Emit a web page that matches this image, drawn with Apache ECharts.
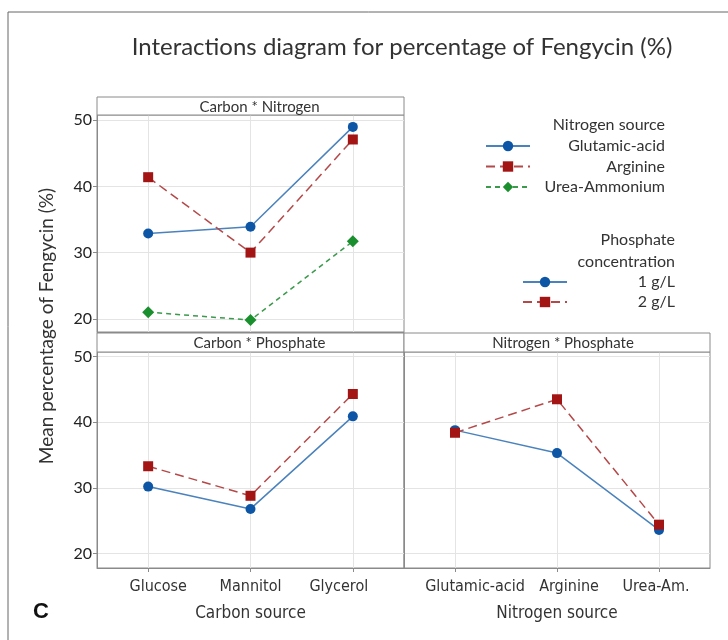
<!DOCTYPE html>
<html>
<head>
<meta charset="utf-8">
<script src="https://cdn.jsdelivr.net/npm/echarts@6/dist/echarts.min.js"></script>
<style>html,body{margin:0;padding:0;background:#fff}#c{width:728px;height:640px}</style>
</head>
<body>
<div id="c"></div>
<script>
const carbonCats = ['Glucose', 'Mannitol', 'Glycerol'];
const nitrogenCats = ['Glutamic-acid', 'Arginine', 'Urea-Am.'];
const nitrogenNames = ['Glutamic-acid', 'Arginine', 'Urea-Ammonium'];
const phosphateNames = ['1 g/L', '2 g/L'];
const cnGlutamic = [32.9, 33.9, 49.0];
const cnArginine = [41.4, 30.0, 47.1];
const cnUrea = [21.0, 19.8, 31.7];
const cp1 = [30.2, 26.8, 40.9];
const cp2 = [33.3, 28.8, 44.3];
const np1 = [38.8, 35.3, 23.6];
const np2 = [38.4, 43.5, 24.4];
const yTicks = [20, 30, 40, 50];

const FONT = 'Lato';
const NARROW = '"Liberation Sans Narrow", "DejaVu Sans Condensed", Lato';
const BLUE = '#0d56a6', BLUE_L = '#4a82bd';
const RED = '#a31515', RED_L = '#b54848';
const GREEN = '#1a8f2e', GREEN_L = '#3b9a4c';
const FRAME = '#8a8a8a';
const GRIDC = '#e4e4e4';

const chart = echarts.init(document.getElementById('c'));

function yAx(gi, min, max, showLabels) {
  return {
    type: 'value', gridIndex: gi, min: min, max: max,
    axisLine: {show: true, lineStyle: {color: FRAME}},
    axisTick: {show: showLabels, length: 4, customValues: yTicks, lineStyle: {color: FRAME}},
    axisLabel: {show: showLabels, customValues: yTicks, fontFamily: FONT, fontSize: 16, color: '#222', margin: 5},
    splitLine: {show: true, customValues: yTicks, lineStyle: {color: GRIDC}}
  };
}
function labelRich(pads) {
  const rich = {};
  pads.forEach((p, i) => {
    rich['c' + i] = {padding: p, fontFamily: NARROW, fontSize: 16, color: '#333'};
  });
  return rich;
}
function xAx(gi, cats, showLabels, name, pads) {
  return {
    type: 'category', gridIndex: gi, data: cats, boundaryGap: true,
    axisLine: {show: true, lineStyle: {color: FRAME}},
    axisTick: {show: showLabels, alignWithLabel: true, length: 4, lineStyle: {color: FRAME}},
    axisLabel: {
      show: showLabels, interval: 0, hideOverlap: false, fontFamily: NARROW, fontSize: 16, color: '#333', margin: 11,
      formatter: (v, i) => '{c' + i + '|' + v + '}',
      rich: labelRich(pads || [[0, 0, 0, 0], [0, 0, 0, 0], [0, 0, 0, 0]])
    },
    splitLine: {show: true, alignWithLabel: true, lineStyle: {color: GRIDC}},
    name: name, nameLocation: 'middle', nameGap: 37,
    nameTextStyle: {fontFamily: NARROW, fontSize: 17, color: '#333'}
  };
}
function ser(name, xi, data, color, lineColor, symbol, size, dash) {
  return {
    type: 'line', name: name, xAxisIndex: xi, yAxisIndex: xi, data: data,
    symbol: symbol, symbolSize: size, showSymbol: true,
    itemStyle: {color: color},
    lineStyle: {color: lineColor, width: 1.5, type: dash},
    z: 5
  };
}
function header(x, y, w, h, text, dx) {
  return [
    {type: 'rect', shape: {x: x, y: y, width: w, height: h}, style: {fill: '#fff', stroke: FRAME, lineWidth: 1}, z: 10},
    {type: 'text', x: x + w / 2 + dx, y: y + h / 2 + 1, style: {text: text, fontFamily: FONT, fontSize: 15, fill: '#333', align: 'center', verticalAlign: 'middle'}, z: 11}
  ];
}

const option = {
  animation: false,
  backgroundColor: '#fff',
  grid: [
    {left: 97, top: 115, width: 307, height: 217, show: true, borderColor: FRAME, borderWidth: 1},
    {left: 97, top: 352, width: 307, height: 216, show: true, borderColor: FRAME, borderWidth: 1},
    {left: 404, top: 352, width: 306, height: 216, show: true, borderColor: FRAME, borderWidth: 1}
  ],
  xAxis: [
    xAx(0, carbonCats, false, ''),
    xAx(1, carbonCats, true, 'Carbon source', [[0, 0, 0, 20], [0, 0, 0, 0], [0, 28, 0, 0]]),
    xAx(2, nitrogenCats, true, 'Nitrogen source', [[0, 0, 0, 40], [0, 0, 0, 24], [0, 6, 0, 0]])
  ],
  yAxis: [
    yAx(0, 18, 50.8, true),
    yAx(1, 17.8, 50.7, true),
    yAx(2, 17.8, 50.7, false)
  ],
  legend: [
    {
      data: nitrogenNames, orient: 'vertical', left: 485, top: 138, padding: 0,
      itemWidth: 44, itemHeight: 13, itemGap: 4.5, align: 'left',
      formatter: '{a|{name}}',
      textStyle: {rich: {a: {width: 130, align: 'right', fontFamily: FONT, fontSize: 16, color: '#333'}}}
    },
    {
      data: phosphateNames, orient: 'vertical', left: 522, top: 274, padding: 0,
      itemWidth: 44, itemHeight: 13, itemGap: 4, align: 'left',
      formatter: '{a|{name}}',
      textStyle: {rich: {a: {width: 103, align: 'right', fontFamily: FONT, fontSize: 16, color: '#333'}}}
    }
  ],
  series: [
    ser(nitrogenNames[0], 0, cnGlutamic, BLUE, BLUE_L, 'circle', 10, 'solid'),
    ser(nitrogenNames[1], 0, cnArginine, RED, RED_L, 'rect', 10, [9, 5]),
    ser(nitrogenNames[2], 0, cnUrea, GREEN, GREEN_L, 'diamond', 12, [5, 4]),
    ser(phosphateNames[0], 1, cp1, BLUE, BLUE_L, 'circle', 10, 'solid'),
    ser(phosphateNames[1], 1, cp2, RED, RED_L, 'rect', 10, [9, 5]),
    ser(phosphateNames[0], 2, np1, BLUE, BLUE_L, 'circle', 10, 'solid'),
    ser(phosphateNames[1], 2, np2, RED, RED_L, 'rect', 10, [9, 5])
  ],
  graphic: [
    {type: 'rect', shape: {x: 8, y: 12, width: 760, height: 700}, style: {fill: 'none', stroke: '#666', lineWidth: 1}, z: 1},
    {type: 'text', x: 402, y: 47, style: {text: 'Interactions diagram for percentage of Fengycin (%)', fontFamily: FONT, fontSize: 24, fill: '#333', align: 'center', verticalAlign: 'middle'}},
    ...header(97, 97, 307, 18, 'Carbon * Nitrogen', 9),
    ...header(97, 333, 307, 19, 'Carbon * Phosphate', 9),
    ...header(404, 333, 306, 19, 'Nitrogen * Phosphate', 6),
    {type: 'text', x: 47, y: 326, rotation: Math.PI / 2, style: {text: 'Mean percentage of Fengycin (%)', fontFamily: FONT, fontSize: 19, fill: '#333', align: 'center', verticalAlign: 'middle'}},
    {type: 'text', x: 41, y: 612, style: {text: 'C', fontFamily: 'Liberation Sans', fontWeight: 'bold', fontSize: 22, fill: '#111', align: 'center', verticalAlign: 'middle'}},
    {type: 'text', x: 665, y: 125, style: {text: 'Nitrogen source', fontFamily: FONT, fontSize: 16, fill: '#333', align: 'right', verticalAlign: 'middle'}},
    {type: 'text', x: 675, y: 240, style: {text: 'Phosphate', fontFamily: FONT, fontSize: 16, fill: '#333', align: 'right', verticalAlign: 'middle'}},
    {type: 'text', x: 675, y: 262, style: {text: 'concentration', fontFamily: FONT, fontSize: 16, fill: '#333', align: 'right', verticalAlign: 'middle'}}
  ]
};
chart.setOption(option);
</script>
</body>
</html>
